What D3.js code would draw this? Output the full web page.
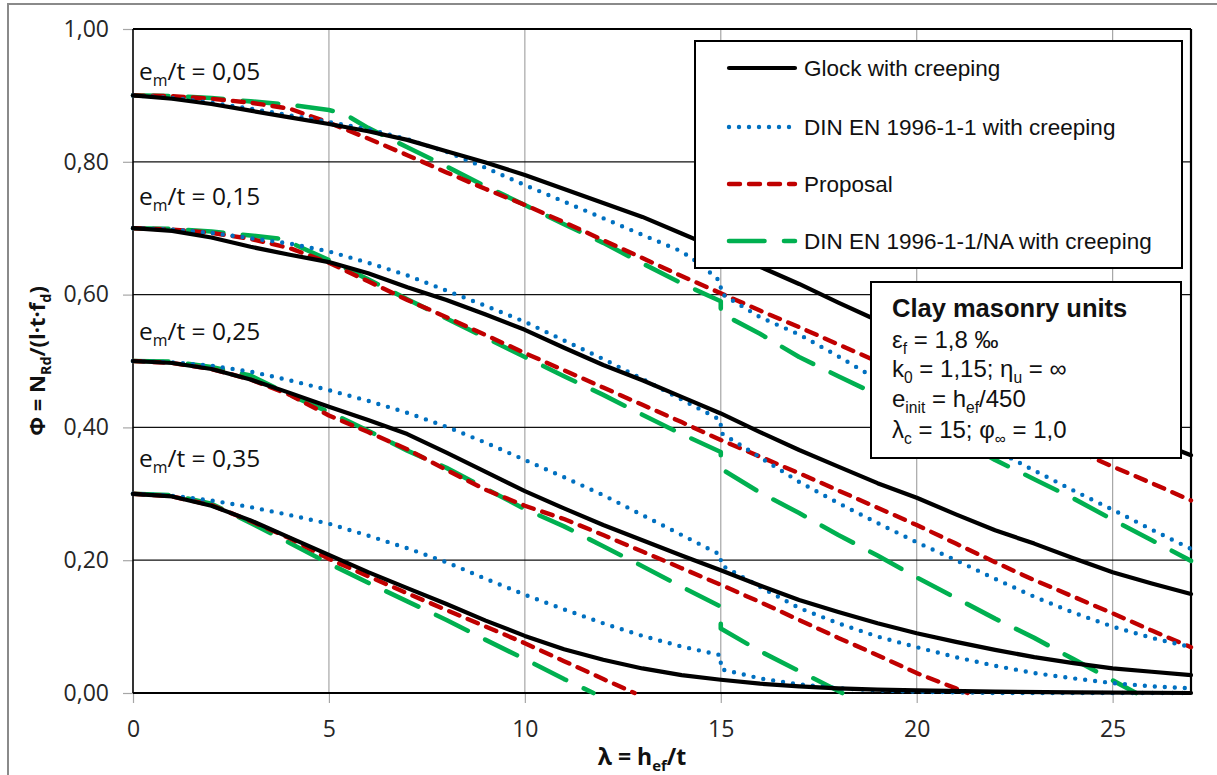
<!DOCTYPE html>
<html><head><meta charset="utf-8">
<script src="https://cdn.jsdelivr.net/npm/d3@7"></script>
<style>body{margin:0;background:#fff}svg{display:block}</style>
</head><body>
<svg id="chart" width="1217" height="775"></svg>
<script>
// ---------------- DATA ----------------
const xTicks = [0, 5, 10, 15, 20, 25];
const yTicks = [0, 0.2, 0.4, 0.6, 0.8, 1.0];
const eccentricities = ["0,05", "0,15", "0,25", "0,35"];
const seriesNames = ["Glock with creeping", "DIN EN 1996-1-1 with creeping", "Proposal", "DIN EN 1996-1-1/NA with creeping"];

// e_m/t = 0,05
const glock005 = [[0,.900],[1,.895],[2,.887],[3,.877],[4,.867],[5,.857],[6,.846],[7,.833],[8,.816],[9,.799],[10,.780],[11,.759],[12,.738],[13,.717],[14,.692],[15,.667],[16,.642],[17,.616],[18,.588],[19,.561],[20,.533],[21,.506],[22,.480],[23,.455],[24,.430],[25,.405],[26,.381],[27,.358]];
const din005 = [[0,.900],[1,.896],[2,.889],[3,.880],[4,.870],[5,.860],[6,.849],[7,.834],[8,.815],[9,.791],[10,.765],[11,.740],[12,.715],[13,.690],[14,.665],[14.5,.645],[15,.619],[15,.602],[16,.566],[17,.540],[18,.507],[19,.472],[20,.437],[21,.401],[22,.366],[23,.335],[24,.305],[25,.276],[26,.246],[27,.217]];
const prop005 = [[0,.900],[1,.899],[2,.895],[3,.889],[4,.880],[5,.859],[6,.835],[7,.810],[8,.784],[9,.759],[10,.735],[11,.709],[12,.682],[13,.655],[14,.628],[15,.602],[16,.576],[17,.551],[18,.525],[19,.499],[20,.472],[21,.446],[22,.420],[23,.394],[24,.367],[25,.341],[26,.316],[27,.290]];
const na005 = [[0,.900],[1,.899],[2,.896],[3,.891],[4,.886],[5,.878],[5.4,.872],[6,.851],[7,.822],[8,.793],[9,.763],[10,.735],[11,.706],[12,.678],[13,.647],[14,.617],[15,.590],[15,.572],[16,.541],[17,.506],[18,.477],[19,.449],[20,.417],[21,.384],[22,.351],[23,.322],[24,.293],[25,.261],[26,.230],[27,.199]];

// e_m/t = 0,15
const glock015 = [[0,.700],[1,.696],[2,.686],[3,.672],[4,.660],[5,.649],[6,.632],[7,.611],[8,.592],[9,.570],[10,.547],[11,.520],[12,.494],[13,.471],[14,.446],[15,.421],[16,.393],[17,.366],[18,.341],[19,.316],[20,.294],[21,.269],[22,.245],[23,.225],[24,.203],[25,.182],[26,.165],[27,.149]];
const din015 = [[0,.700],[1,.698],[2,.693],[3,.685],[4,.677],[5,.665],[6,.648],[7,.629],[8,.606],[9,.583],[10,.559],[11,.531],[12,.503],[13,.473],[14,.442],[15,.411],[15,.392],[16,.355],[17,.318],[18,.286],[19,.256],[20,.227],[21,.200],[22,.172],[23,.145],[24,.121],[25,.100],[26,.083],[27,.069]];
const prop015 = [[0,.700],[1,.698],[2,.693],[3,.684],[4,.670],[5,.648],[6,.620],[7,.592],[8,.566],[9,.539],[10,.512],[11,.486],[12,.460],[13,.434],[14,.408],[15,.381],[16,.356],[17,.331],[18,.305],[19,.279],[20,.253],[21,.225],[22,.197],[23,.170],[24,.145],[25,.120],[26,.094],[27,.069]];
const na015 = [[0,.700],[1,.699],[2,.695],[3,.689],[3.8,.684],[5,.652],[6,.623],[7,.593],[8,.564],[9,.535],[10,.506],[11,.477],[12,.449],[13,.419],[14,.390],[15,.363],[15,.338],[16,.302],[17,.271],[18,.238],[19,.207],[20,.174],[21,.143],[22,.112],[23,.083],[24,.051],[25,.019],[25.6,0]];

// e_m/t = 0,25
const glock025 = [[0,.500],[1,.497],[2,.488],[3,.472],[4,.452],[5,.431],[6,.411],[7,.390],[8,.362],[9,.333],[10,.304],[11,.278],[12,.253],[13,.230],[14,.207],[15,.185],[16,.162],[17,.140],[18,.122],[19,.105],[20,.090],[21,.077],[22,.065],[23,.054],[24,.045],[25,.037],[26,.032],[27,.027]];
const din025 = [[0,.500],[1,.498],[2,.493],[3,.484],[4,.471],[5,.456],[6,.440],[7,.422],[8,.401],[9,.377],[10,.351],[11,.325],[12,.298],[13,.268],[14,.238],[15,.208],[15,.193],[16,.160],[17,.128],[18,.105],[19,.085],[20,.069],[21,.054],[22,.041],[23,.030],[24,.022],[25,.015],[26,.010],[27,.007]];
const prop025 = [[0,.500],[1,.497],[2,.488],[3,.472],[4,.449],[5,.418],[6,.393],[7,.367],[8,.336],[9,.306],[10,.282],[11,.262],[12,.238],[13,.213],[14,.188],[15,.163],[16,.137],[17,.110],[18,.083],[19,.057],[20,.030],[21,.007],[21.3,0]];
const na025 = [[0,.500],[1,.499],[2,.491],[3,.478],[4,.449],[5,.423],[6,.395],[7,.365],[8,.339],[9,.308],[10,.277],[11,.251],[12,.221],[13,.191],[14,.160],[15,.130],[15,.097],[16,.063],[17,.033],[18,.003],[18.1,0]];

// e_m/t = 0,35
const glock035 = [[0,.300],[1,.296],[2,.282],[3,.260],[4,.234],[5,.208],[6,.182],[7,.158],[8,.134],[9,.109],[10,.086],[11,.066],[12,.050],[13,.037],[14,.027],[15,.020],[16,.014],[17,.010],[18,.007],[19,.005],[20,.004],[22,.002],[24,.001],[27,0]];
const din035 = [[0,.300],[1,.297],[2,.290],[3,.280],[4,.268],[5,.255],[6,.237],[7,.218],[8,.197],[9,.172],[10,.148],[11,.126],[12,.105],[13,.086],[14,.070],[15,.057],[15,.036],[16,.022],[17,.013],[18,.007],[19,.004],[20,.002],[21,.001],[22,0],[27,0]];
const prop035 = [[0,.300],[1,.296],[2,.283],[3,.259],[4,.233],[5,.202],[6,.176],[7,.150],[8,.125],[9,.100],[10,.075],[11,.048],[12,.021],[12.8,0]];
const na035 = [[0,.300],[1,.298],[2,.285],[3,.256],[4,.226],[5,.195],[6,.166],[7,.138],[8,.110],[9,.080],[10,.051],[11,.021],[11.75,0]];

// ---------------- LAYOUT ----------------
const svg = d3.select("#chart");
const W = 1217, H = 775;
const plot = {left: 133, right: 1191, top: 29, bottom: 693};
const x = d3.scaleLinear().domain([0, 27]).range([plot.left, plot.right]);
const y = d3.scaleLinear().domain([0, 1]).range([plot.bottom, plot.top]);
const locale = d3.formatLocale({decimal: ",", thousands: ".", grouping: [3], currency: ["", "€"]});
const fmt = locale.format(".2f");

const tickFont = "'Open Sans', sans-serif";
const textFont = "'Liberation Sans', Arial, sans-serif";

svg.append("rect").attr("width", W).attr("height", H).attr("fill", "#fff");
// outer chart-area border
svg.append("rect").attr("x", 8).attr("y", 4).attr("width", 1240).attr("height", 820)
  .attr("fill", "none").attr("stroke", "#8a8a8a").attr("stroke-width", 2);

// vertical gridlines (gray, extend as ticks)
svg.append("g").selectAll("line").data(xTicks.filter(d => d > 0)).join("line")
  .attr("x1", d => x(d)).attr("x2", d => x(d))
  .attr("y1", plot.top).attr("y2", plot.bottom)
  .attr("stroke", "#a6a6a6").attr("stroke-width", 1.2);
// horizontal gridlines
svg.append("g").selectAll("line").data(yTicks.filter(d => d > 0 && d < 1)).join("line")
  .attr("x1", plot.left).attr("x2", plot.right)
  .attr("y1", d => y(d)).attr("y2", d => y(d))
  .attr("stroke", "#111").attr("stroke-width", 1.2);

// axes
const yAxis = d3.axisLeft(y).tickValues(yTicks).tickSize(10).tickPadding(14).tickFormat(fmt);
const gy = svg.append("g").attr("transform", `translate(${plot.left},0)`).call(yAxis);
const xAxis = d3.axisBottom(x).tickValues(xTicks).tickSize(10).tickPadding(18).tickFormat(d3.format("d"));
const gx = svg.append("g").attr("transform", `translate(0,${plot.bottom})`).call(xAxis);
[gx, gy].forEach(g => {
  g.select(".domain").remove();
  g.selectAll(".tick line").attr("stroke", "#a6a6a6").attr("stroke-width", 1.2);
  g.selectAll(".tick text").attr("font-family", tickFont).attr("font-size", 23).attr("fill", "#262626");
});

// plot frame
svg.append("line").attr("x1", plot.left).attr("x2", plot.right).attr("y1", plot.top).attr("y2", plot.top).attr("stroke", "#000").attr("stroke-width", 2);
svg.append("line").attr("x1", plot.right).attr("x2", plot.right).attr("y1", plot.top).attr("y2", plot.bottom).attr("stroke", "#000").attr("stroke-width", 2.2);
svg.append("line").attr("x1", plot.left).attr("x2", plot.left).attr("y1", plot.top).attr("y2", plot.bottom).attr("stroke", "#000").attr("stroke-width", 1.6);
svg.append("line").attr("x1", plot.left).attr("x2", plot.right).attr("y1", plot.bottom).attr("y2", plot.bottom).attr("stroke", "#000").attr("stroke-width", 2);

// styles
const styles = [
  {stroke: "#000000", width: 4.2, dash: null, cap: "round"},
  {stroke: "#0070C0", width: 4.4, dash: "0,10", cap: "round"},
  {stroke: "#C00000", width: 4.4, dash: "11,9", cap: "round"},
  {stroke: "#00B050", width: 4.6, dash: "35.5,19.5", cap: "round"}
];
const groups = [
  [glock005, din005, prop005, na005],
  [glock015, din015, prop015, na015],
  [glock025, din025, prop025, na025],
  [glock035, din035, prop035, na035]
];
const line = d3.line().x(d => x(d[0])).y(d => y(d[1]));
const curves = svg.append("g").attr("fill", "none");
[3, 2, 1, 0].forEach(si => {
  groups.forEach(g => {
    const s = styles[si];
    curves.append("path").attr("d", line(g[si]))
      .attr("stroke", s.stroke).attr("stroke-width", s.width)
      .attr("stroke-dasharray", s.dash).attr("stroke-linecap", s.cap)
      .attr("stroke-linejoin", "round");
  });
});

// rich text helper (subscripts)
function rich(textSel, parts, subScale, subDy) {
  let shifted = false;
  parts.forEach(p => {
    const isSub = typeof p !== "string";
    const t = textSel.append("tspan").text(isSub ? p.sub : p);
    if (isSub) {
      t.attr("font-size", (subScale * 100) + "%");
      if (!shifted) { t.attr("dy", subDy); shifted = true; }
    } else if (shifted) {
      t.attr("dy", -subDy); shifted = false;
    }
  });
}

// e_m/t labels
const eccBaselines = [80, 205, 340, 467];
eccentricities.forEach((e, i) => {
  const t = svg.append("text").attr("x", 139).attr("y", eccBaselines[i])
    .attr("font-family", tickFont).attr("font-size", 24.5).attr("fill", "#111");
  rich(t, ["e", {sub: "m"}, "/t = " + e], 0.65, 6);
});

// axis titles
const xt = svg.append("text").attr("x", 642).attr("y", 765).attr("text-anchor", "middle")
  .attr("font-family", tickFont).attr("font-weight", "bold").attr("font-size", 23).attr("fill", "#111");
rich(xt, ["λ = h", {sub: "ef"}, "/t"], 0.65, 6);
const yt = svg.append("text").attr("transform", "translate(45,361) rotate(-90)").attr("text-anchor", "middle")
  .attr("font-family", tickFont).attr("font-weight", "bold").attr("font-size", 22).attr("fill", "#111");
rich(yt, ["Φ = N", {sub: "Rd"}, "/(l·t·f", {sub: "d"}, ")"], 0.65, 6);

// legend
const lg = svg.append("g");
lg.append("rect").attr("x", 695).attr("y", 41).attr("width", 487).attr("height", 227)
  .attr("fill", "#fff").attr("stroke", "#000").attr("stroke-width", 2);
const legendRows = [68, 127, 184, 241];
seriesNames.forEach((name, i) => {
  const s = styles[i];
  lg.append("line").attr("x1", 729).attr("x2", 795).attr("y1", legendRows[i]).attr("y2", legendRows[i])
    .attr("stroke", s.stroke).attr("stroke-width", s.width)
    .attr("stroke-dasharray", s.dash).attr("stroke-linecap", s.cap);
  lg.append("text").attr("x", 804).attr("y", legendRows[i]).attr("dy", "0.36em")
    .attr("font-family", textFont).attr("font-size", 22.5).attr("fill", "#111").text(name);
});

// info box
const ib = svg.append("g");
ib.append("rect").attr("x", 871).attr("y", 282).attr("width", 310).attr("height", 176)
  .attr("fill", "#fff").attr("stroke", "#000").attr("stroke-width", 2);
ib.append("text").attr("x", 892).attr("y", 317).attr("font-family", textFont).attr("font-weight", "bold")
  .attr("font-size", 25.5).attr("fill", "#111").text("Clay masonry units");
const infoLines = [
  ["ε", {sub: "f"}, " = 1,8 ‰"],
  ["k", {sub: "0"}, " = 1,15; η", {sub: "u"}, " = ∞"],
  ["e", {sub: "init"}, " = h", {sub: "ef"}, "/450"],
  ["λ", {sub: "c"}, " = 15; φ", {sub: "∞"}, " = 1,0"]
];
const infoBaselines = [348, 377, 407, 438];
infoLines.forEach((parts, i) => {
  const t = ib.append("text").attr("x", 892).attr("y", infoBaselines[i])
    .attr("font-family", textFont).attr("font-size", 24).attr("fill", "#111");
  rich(t, parts, 0.65, 6);
});
</script>
</body></html>
